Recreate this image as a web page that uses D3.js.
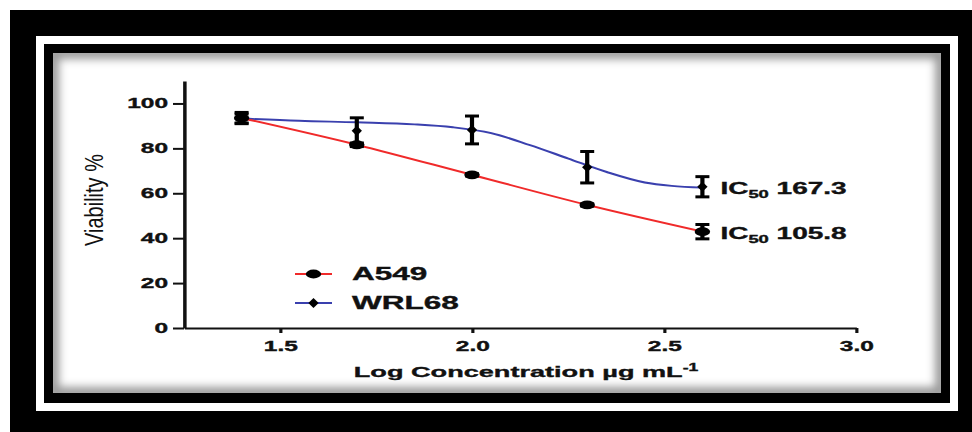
<!DOCTYPE html>
<html>
<head>
<meta charset="utf-8">
<script src="https://cdn.jsdelivr.net/npm/d3@7"></script>
<style>
  body { margin: 0; background: #fff; }
  svg { display: block; font-family: "Liberation Sans", Arial, sans-serif; }
  .heavy { stroke: #111; stroke-width: 0.35px; }
</style>
</head>
<body>
<script>
// log concentration of each dose
var doseLog = [1.4, 1.7, 2.0, 2.3, 2.6];

// A549 viability (mean +- error)
var a549Mean = [93.5, 81.6, 68.2, 54.8, 42.9];
var a549Err = [2.5, 0.8, 0.5, 0.5, 3.2];

// WRL68 viability (mean +- error)
var wrl68Mean = [93.3, 87.8, 88.2, 71.6, 62.9];
var wrl68Err = [2.0, 5.8, 6.2, 7.0, 4.5];

// fitted WRL68 curve
var wrlFitX = [1.4, 1.55, 1.7, 1.85, 1.95, 2.05, 2.15, 2.25, 2.35, 2.45, 2.52, 2.6];
var wrlFitY = [93.3, 92.3, 91.6, 90.7, 89.4, 86.8, 81.5, 75.5, 69.5, 64.8, 63.3, 62.5];

var xTicks = [1.5, 2.0, 2.5, 3.0];
var yTicks = [0, 20, 40, 60, 80, 100];
var seriesNames = ["A549", "WRL68"];
var ic50Values = ["105.8", "167.3"];

function init() {
  var W = 972, H = 432;
  var S = 1.75; // the figure is stretched sideways

  var red = "#f02a2a", blue = "#3a40ae";

  var svg = d3.select("body").append("svg")
    .attr("width", W)
    .attr("height", H);

  var defs = svg.append("defs");
  defs.append("filter").attr("id", "blur")
    .attr("x", "-10%").attr("y", "-10%").attr("width", "120%").attr("height", "120%")
    .append("feGaussianBlur").attr("stdDeviation", 4);
  defs.append("clipPath").attr("id", "panelClip")
    .append("rect").attr("x", 53).attr("y", 53).attr("width", 888).attr("height", 340);

  // frame
  svg.append("rect").attr("x", 10).attr("y", 10).attr("width", W - 10).attr("height", H - 10)
    .attr("fill", "#000");
  svg.append("rect").attr("x", 40).attr("y", 40).attr("width", 914).attr("height", 367)
    .attr("fill", "none").attr("stroke", "#fff").attr("stroke-width", 8);
  svg.append("rect").attr("x", 53).attr("y", 53).attr("width", 888).attr("height", 340)
    .attr("fill", "#fff");
  // soft inner shadow of the panel
  svg.append("g").attr("clip-path", "url(#panelClip)")
    .append("rect").attr("x", 53).attr("y", 53).attr("width", 888).attr("height", 340)
    .attr("fill", "none").attr("stroke", "#000").attr("stroke-opacity", 0.4)
    .attr("stroke-width", 12).attr("filter", "url(#blur)");

  var g = svg.append("g").attr("transform", "scale(" + S + ",1)");

  var x = d3.scaleLinear().domain([1.25, 3.0]).range([184 / S, 856 / S]);
  var y = d3.scaleLinear().domain([0, 110]).range([328, 81]);

  // axes
  var xAxis = g.append("g")
    .attr("transform", "translate(0," + y(0) + ")")
    .call(d3.axisBottom(x).tickValues(xTicks).tickFormat(d3.format(".1f"))
      .tickSize(5).tickSizeOuter(0).tickPadding(8));
  xAxis.select(".domain").attr("stroke", "#111").attr("stroke-width", 2);
  xAxis.selectAll(".tick line").attr("stroke", "#111").attr("stroke-width", 1.8);

  var yAxis = g.append("g")
    .attr("transform", "translate(" + x(1.25) + ",0)")
    .call(d3.axisLeft(y).tickValues(yTicks)
      .tickSize(11 / S).tickSizeOuter(0).tickPadding(5 / S));
  yAxis.select(".domain").attr("stroke", "#111").attr("stroke-width", 2);
  yAxis.selectAll(".tick line").attr("stroke", "#111").attr("stroke-width", 2);

  g.selectAll(".tick text")
    .attr("class", "heavy")
    .attr("fill", "#111")
    .style("font-family", "'Liberation Sans', Arial, sans-serif")
    .style("font-size", "14px")
    .style("font-weight", "bold");

  // curves
  var line = d3.line()
    .x(function(d) { return x(d[0]); })
    .y(function(d) { return y(d[1]); })
    .curve(d3.curveMonotoneX);

  g.append("path")
    .datum(d3.zip(wrlFitX, wrlFitY))
    .attr("fill", "none").attr("stroke", blue).attr("stroke-width", 1.9)
    .attr("d", line);

  g.append("path")
    .datum(d3.zip(doseLog, a549Mean))
    .attr("fill", "none").attr("stroke", red).attr("stroke-width", 1.9)
    .attr("d", line);

  // error bars
  function errorBars(means, errs) {
    var eb = g.append("g").attr("stroke", "#000");
    doseLog.forEach(function(d, i) {
      var lo = y(means[i] - errs[i]), hi = y(means[i] + errs[i]);
      eb.append("line").attr("x1", x(d)).attr("x2", x(d))
        .attr("y1", lo).attr("y2", hi).attr("stroke-width", 2.4);
      [lo, hi].forEach(function(v) {
        eb.append("line").attr("x1", x(d) - 4).attr("x2", x(d) + 4)
          .attr("y1", v).attr("y2", v).attr("stroke-width", 3);
      });
    });
  }
  errorBars(wrl68Mean, wrl68Err);
  errorBars(a549Mean, a549Err);

  var diamond = d3.symbol().type(d3.symbolDiamond).size(30);

  g.selectAll(".wrl").data(doseLog).enter().append("path")
    .attr("class", "wrl")
    .attr("d", diamond)
    .attr("transform", function(d, i) { return "translate(" + x(d) + "," + y(wrl68Mean[i]) + ")"; })
    .attr("fill", "#000");

  g.selectAll(".a549").data(doseLog).enter().append("circle")
    .attr("class", "a549")
    .attr("cx", function(d) { return x(d); })
    .attr("cy", function(d, i) { return y(a549Mean[i]); })
    .attr("r", 4.4)
    .attr("fill", "#000");

  // IC50 labels at the last dose
  var lastMeans = [a549Mean[4], wrl68Mean[4]];
  lastMeans.forEach(function(m, i) {
    var t = g.append("text")
      .attr("class", "heavy")
      .attr("x", x(doseLog[4]) + 18 / S)
      .attr("y", y(m) + 7.5)
      .attr("fill", "#111")
      .style("font-weight", "bold")
      .style("font-size", "16px");
    t.append("tspan").text("IC");
    t.append("tspan").attr("dy", 4).style("font-size", "10.5px").text("50");
    t.append("tspan").attr("dy", -4).text(" " + ic50Values[i]);
  });

  // legend
  var legColors = [red, blue];
  seriesNames.forEach(function(name, i) {
    var ly = 274 + i * 29;
    var lg = g.append("g");
    lg.append("line").attr("x1", 295 / S).attr("x2", 332 / S)
      .attr("y1", ly).attr("y2", ly)
      .attr("stroke", legColors[i]).attr("stroke-width", 2);
    if (i === 0) {
      lg.append("circle").attr("cx", 313.5 / S).attr("cy", ly).attr("r", 4.4).attr("fill", "#000");
    } else {
      lg.append("path").attr("d", diamond)
        .attr("transform", "translate(" + (313.5 / S) + "," + ly + ")").attr("fill", "#000");
    }
    lg.append("text").attr("class", "heavy")
      .attr("x", 352 / S).attr("y", ly + 6.5)
      .attr("fill", "#111")
      .style("font-weight", "bold").style("font-size", "18px")
      .text(name);
  });

  // axis titles
  var xt = g.append("text")
    .attr("class", "heavy")
    .attr("x", 526 / S).attr("y", 377)
    .attr("text-anchor", "middle")
    .attr("fill", "#111")
    .style("font-weight", "bold").style("font-size", "15.5px");
  xt.append("tspan").text("Log Concentration \u00b5g mL");
  xt.append("tspan").attr("dy", -6).style("font-size", "10px").text("-1");

  svg.append("text")
    .attr("transform", "translate(103,200) scale(1.25,1) rotate(-90)")
    .attr("text-anchor", "middle")
    .attr("fill", "#111")
    .style("font-size", "20px")
    .text("Viability %");
}
window.onload = init;
</script>
</body>
</html>
